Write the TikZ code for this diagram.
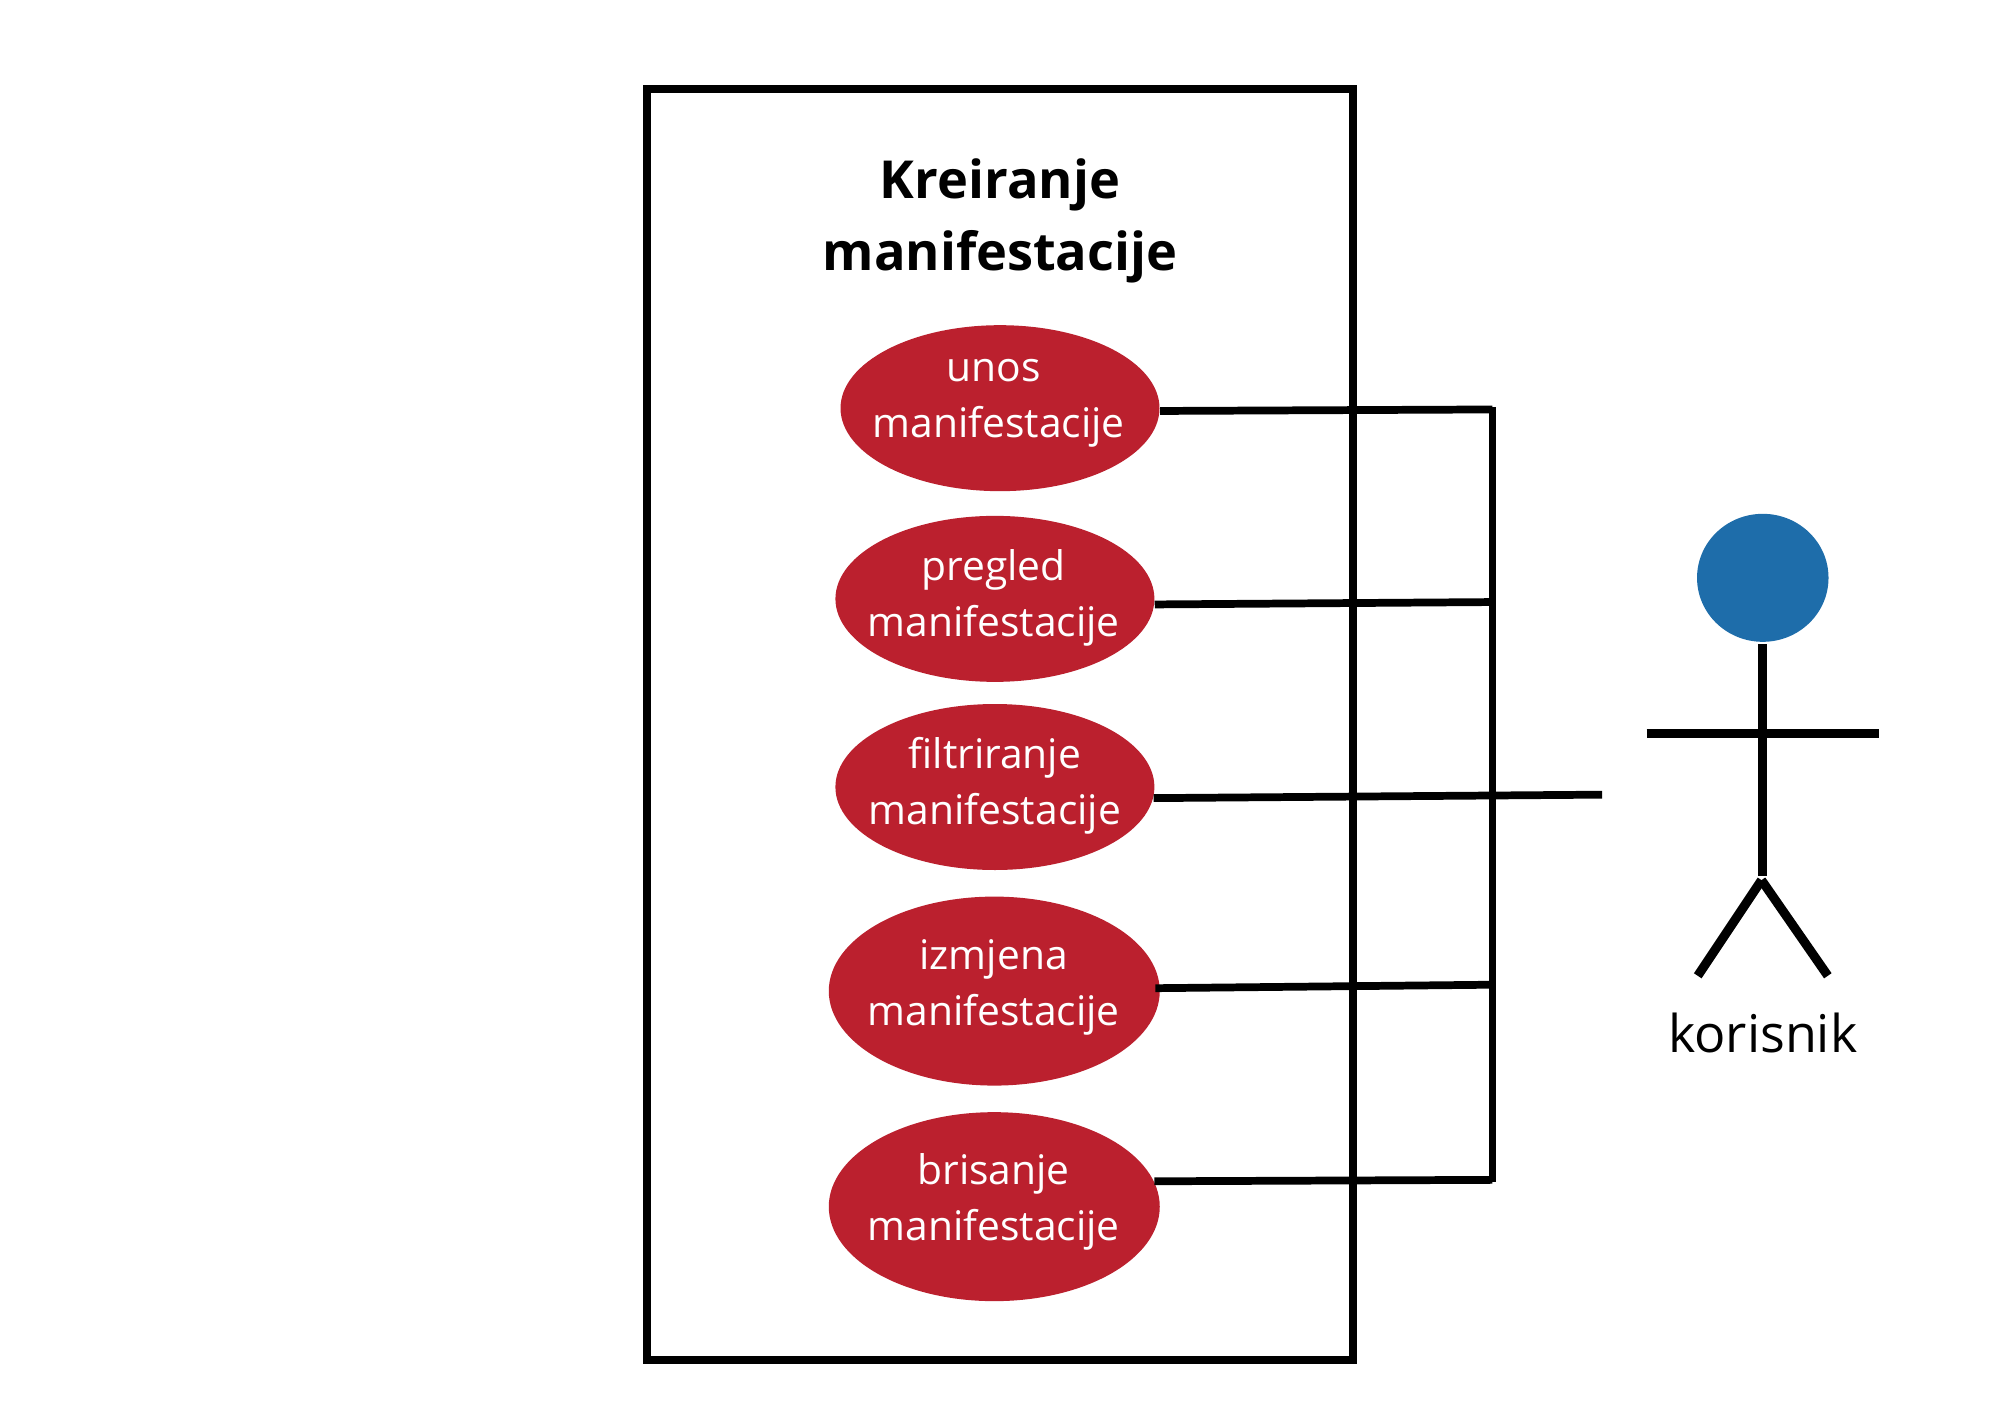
\documentclass[tikz,border=0pt]{standalone}
\usepackage{xcolor}
\usepackage{fontspec}
\setmainfont{Open Sans}
\usetikzlibrary{shapes.geometric}
\definecolor{ucred}{RGB}{187,32,46}
\definecolor{actorblue}{RGB}{30,109,170}
\tikzset{
    veza/.style={line width=2.2pt, black},
    figura/.style={line width=2.6pt, black},
    uc/.style={ellipse, fill=ucred, inner sep=0pt, minimum width=3.19cm, minimum height=1.66cm},
    ucbig/.style={uc, minimum width=3.31cm, minimum height=1.89cm},
    uctext/.style={white, align=center, inner sep=0pt, font=\fontsize{11.6}{16}\selectfont},
}
\begin{document}
\begin{tikzpicture}[x=0.012755cm, y=-0.012755cm]
    \useasboundingbox (0,0) rectangle (1568,1108.6);
    \draw[veza] (507,70) rectangle (1061,1066);
    \node[align=center, inner sep=0pt, font=\fontsize{14.9}{20.5}\selectfont\bfseries] (naslov) at (784,173) {Kreiranje\\manifestacije};

    \node[uc] (unos) at (784,320) {};
    \node[uc] (pregled) at (780,469.5) {};
    \node[uc] (filtriranje) at (780,617) {};
    \node[ucbig] (izmjena) at (779.5,777) {};
    \node[ucbig] (brisanje) at (779.5,946) {};

    \node[uctext] (unostxt) at (783,316) {unos\hspace*{0.1cm}\\manifestacije};
    \node[uctext] (pregledtxt) at (779,469) {pregled\\manifestacije};
    \node[uctext] (filtriranjetxt) at (780,616) {filtriranje\\manifestacije};
    \node[uctext] (izmjenatxt) at (779,774) {izmjena\\manifestacije};
    \node[uctext] (brisanjetxt) at (779,942) {brisanje\\manifestacije};

    \coordinate (busa) at (1170,321);
    \coordinate (busb) at (1170,472);
    \coordinate (busc) at (1256,623);
    \coordinate (busd) at (1170,772);
    \coordinate (buse) at (1170,925);
    \coordinate (bustop) at (1170,319);
    \coordinate (busend) at (1170,927);

    \draw[veza] (bustop) -- (busend);
    \draw[veza] (unos.-1) -- (busa);
    \draw[veza] (pregled.-2) -- (busb);
    \draw[veza] (filtriranje.-4) -- (busc);
    \draw[veza] ([xshift=-0.05cm]izmjena.1) -- (busd);
    \draw[veza] (brisanje.9) -- (buse);

    % korisnik
    \node[ellipse, fill=actorblue, inner sep=0pt, minimum width=1.315cm, minimum height=1.28cm] (glava) at (1382,453) {};
    \coordinate (vrat) at (1382,505);
    \coordinate (kuk) at (1382,687);
    \coordinate (rukal) at (1291,575);
    \coordinate (rukad) at (1473,575);
    \coordinate (noga) at (1381,690);
    \coordinate (nogal) at (1331,765);
    \coordinate (nogad) at (1433,765);
    \draw[figura] (vrat) -- (kuk);
    \draw[figura] (rukal) -- (rukad);
    \draw[figura] (noga) -- (nogal);
    \draw[figura] (noga) -- (nogad);
    \node[inner sep=0pt, font=\fontsize{14.8}{16}\selectfont] (korisnik) at (1382,810) {korisnik};
\end{tikzpicture}
\end{document}
